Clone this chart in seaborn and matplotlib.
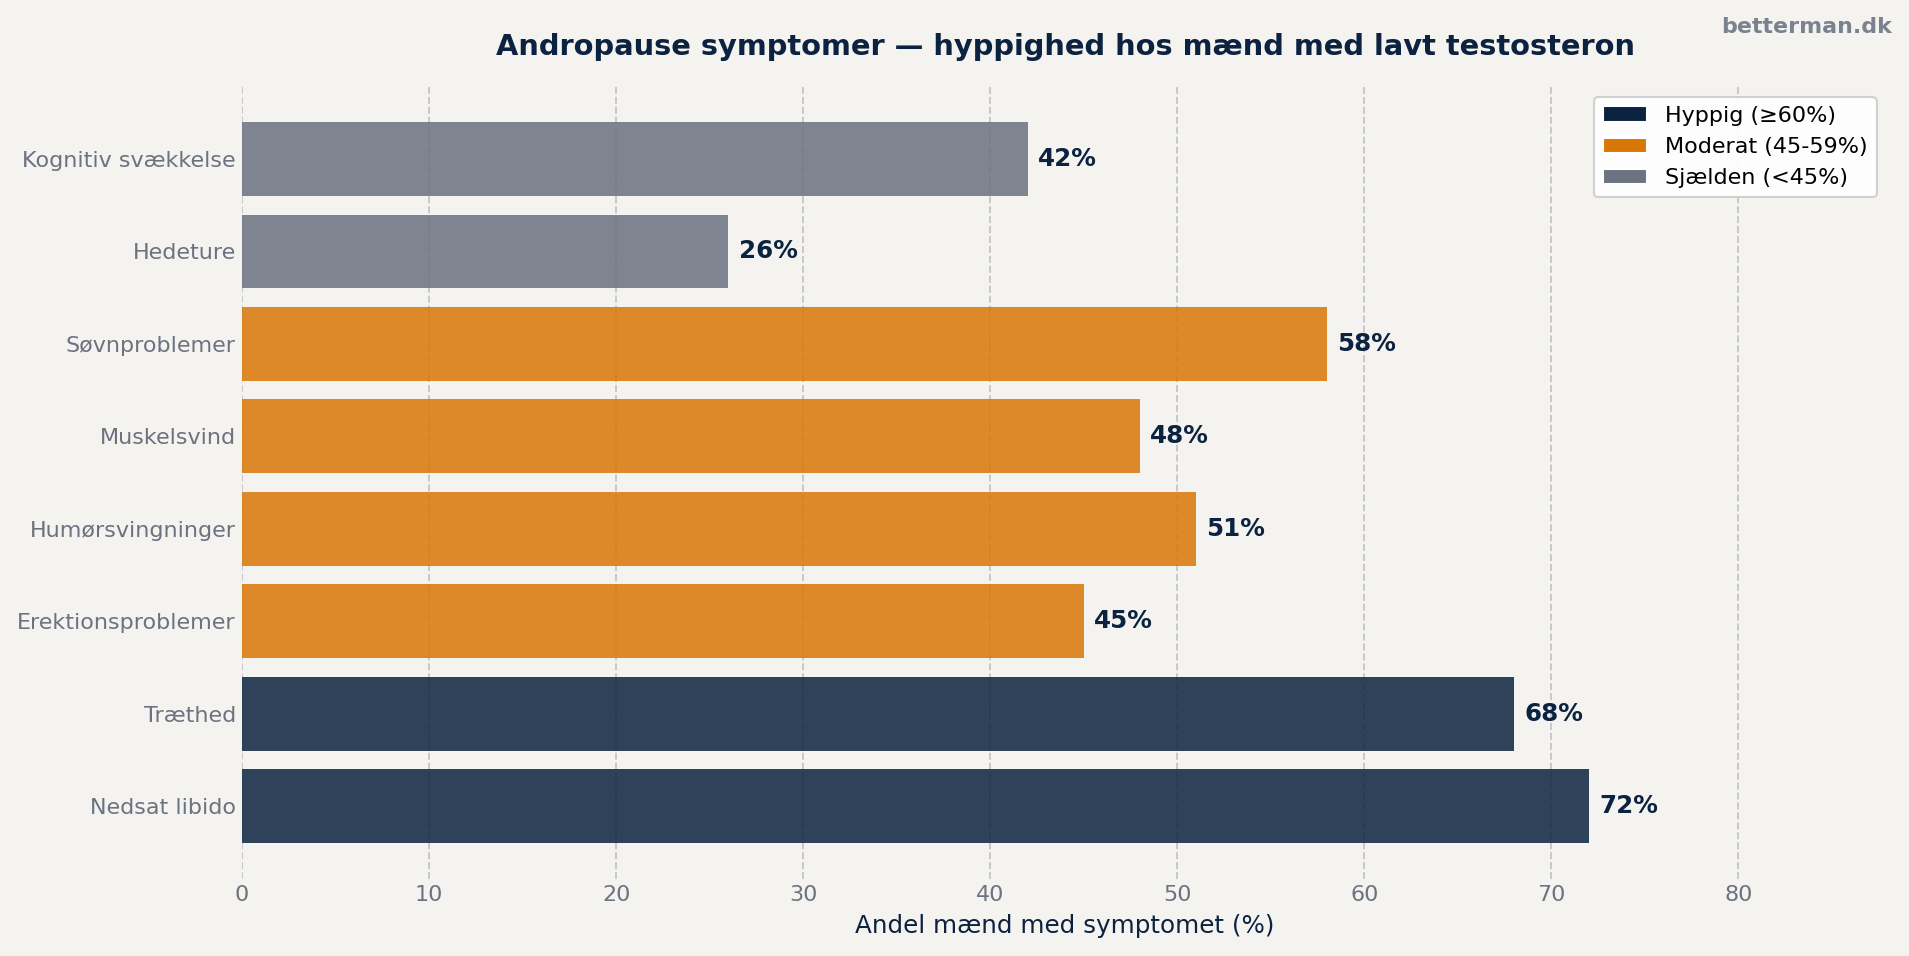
import matplotlib.pyplot as plt
import seaborn as sns
import pandas as pd
from matplotlib.patches import Patch

sns.set_theme(style="white")
plt.rcParams["font.family"] = ["DejaVu Sans"]

# data (top to bottom as shown)
symptoms = [
    "Kognitiv svækkelse",
    "Hedeture",
    "Søvnproblemer",
    "Muskelsvind",
    "Humørsvingninger",
    "Erektionsproblemer",
    "Træthed",
    "Nedsat libido",
]
share = [42, 26, 58, 48, 51, 45, 68, 72]
groups = ["Hyppig (≥60%)", "Moderat (45-59%)", "Sjælden (<45%)"]
group_colors = ["#0B2340", "#D97706", "#6B7280"]


def group_of(v):
    if v >= 60:
        return groups[0]
    if v >= 45:
        return groups[1]
    return groups[2]


df = pd.DataFrame({"symptom": symptoms, "share": share})
df["group"] = [group_of(v) for v in share]
palette = dict(zip(groups, group_colors))

bg = "#F5F3EF"
navy = "#0B2340"
gray = "#6B7280"

fig = plt.figure(figsize=(1909 / 150, 956 / 150), dpi=150, facecolor=bg)
ax = fig.add_axes([0.1268, 0.0805, 0.989 - 0.1268, 0.910 - 0.0805])
ax.set_facecolor(bg)

sns.barplot(
    data=df, x="share", y="symptom", hue="group", palette=palette,
    hue_order=groups, dodge=False, width=0.8, alpha=0.85,
    legend=False, ax=ax, saturation=1, linewidth=0,
)

for i, v in enumerate(share):
    ax.text(v + 0.55, i, f"{v}%", va="center", ha="left",
            fontsize=11.8, fontweight="bold", color=navy)

ax.set_xlim(0, 88)
ax.set_ylim(len(symptoms) - 1 + 0.79, -0.79)
ax.set_xticks(range(0, 81, 10))
ax.set_axisbelow(True)
ax.grid(axis="x", linestyle="--", color="#B8BCC2", alpha=0.8, linewidth=0.9)
ax.grid(axis="y", visible=False)
for s in ax.spines.values():
    s.set_visible(False)
ax.tick_params(axis="both", length=0, labelsize=10.7, labelcolor=gray, pad=3)
ax.set_ylabel("")
ax.set_xlabel("Andel mænd med symptomet (%)", fontsize=11.8, color=navy, labelpad=4)
ax.set_title("Andropause symptomer — hyppighed hos mænd med lavt testosteron",
             fontsize=13.85, fontweight="bold", color=navy, pad=15)

handles = [Patch(facecolor=c, label=g) for g, c in zip(groups, group_colors)]
leg = ax.legend(handles=handles, loc="upper right", fontsize=10.7, frameon=True,
                facecolor="white", edgecolor="#CCCCCC", framealpha=0.9)
for t in leg.get_texts():
    t.set_color("black")

fig.text(0.991, 0.982, "betterman.dk", ha="right", va="top",
         fontsize=10.6, fontweight="bold", color="#7A8290")

fig.savefig("out.png", dpi=150, facecolor=bg)
